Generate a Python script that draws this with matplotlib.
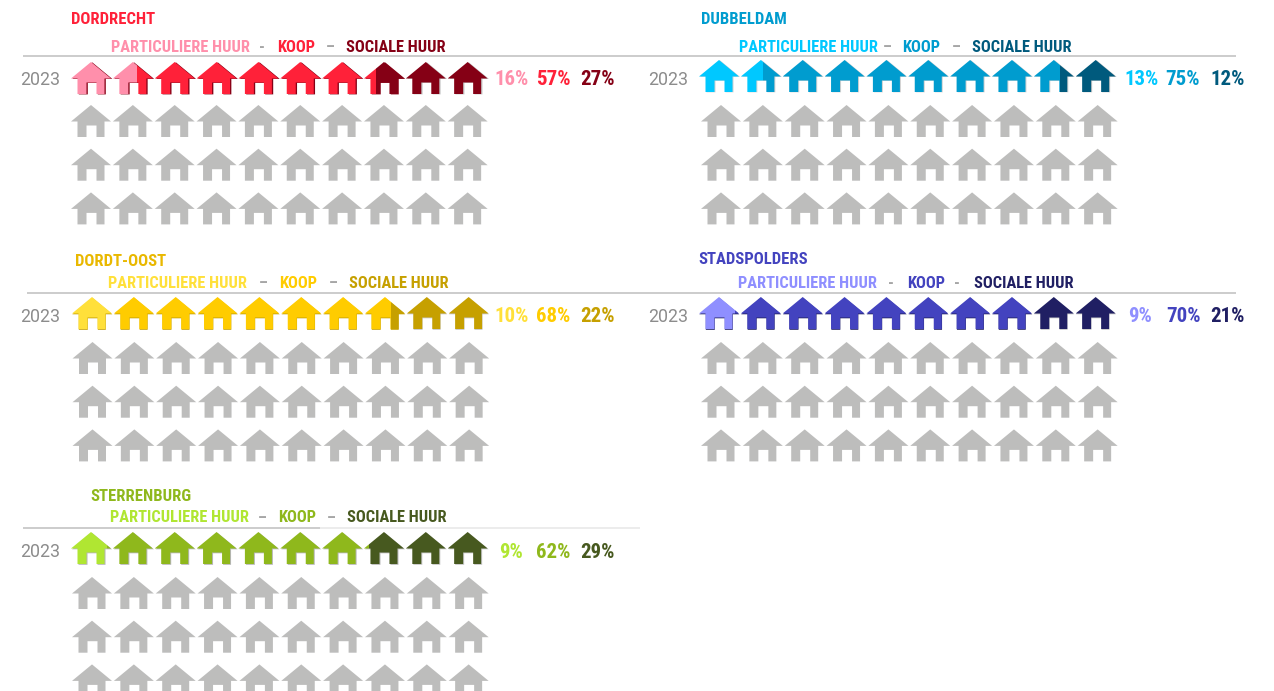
import matplotlib
matplotlib.use("Agg")
import matplotlib.pyplot as plt
from matplotlib import font_manager as fm
from matplotlib.patches import PathPatch, Rectangle
from matplotlib.path import Path

# ---- data ----
YEAR = "2023"
SERIES_LABELS = ["PARTICULIERE HUUR", "KOOP", "SOCIALE HUUR"]
dordrecht_pct = [16, 57, 27]
dubbeldam_pct = [13, 75, 12]
dordt_oost_pct = [10, 68, 22]
stadspolders_pct = [9, 70, 21]
sterrenburg_pct = [9, 62, 29]
# filled house boundaries (in houses)
dordrecht_fill = [1.6, 7.3]
dubbeldam_fill = [1.55, 8.65]
dordt_oost_fill = [1.0, 7.65]
stadspolders_fill = [0.9, 8.0]
sterrenburg_fill = [0.9, 7.12]

# ---- layout / style ----
GRAY = "#BDBDBC"
avail = {f.name for f in fm.fontManager.ttflist}
NARROW = next((n for n in ["Roboto Condensed", "Liberation Sans Narrow", "Roboto"] if n in avail), "DejaVu Sans")

panels = [
    dict(name="DORDRECHT", pct=dordrecht_pct, fill=dordrecht_fill,
         cols=["#FF8FAB", "#FF2139", "#850015"], title=("#FF2139", 70.5, 19),
         top=(71, 62), grid=(71, 105), leg_y=47, leg_x=[111, 277, 346], sep=[("-", 262), ("–", 330)],
         year_y=79.5, pct_x=[494, 536, 580], year_x=20, shadow=("#850015", 1.3, 0.4)),
    dict(name="DUBBELDAM", pct=dubbeldam_pct, fill=dubbeldam_fill,
         cols=["#00C8FF", "#009CCF", "#005A7D"], title=("#009CCF", 700.5, 19),
         top=(699, 60), grid=(701, 105), leg_y=47, leg_x=[739, 902, 972], sep=[("–", 887), ("–", 956)],
         year_y=79.5, pct_x=[1124, 1165, 1210], year_x=648, shadow=("#D0D0D0", 1.0, 0.3)),
    dict(name="DORDT-OOST", pct=dordt_oost_pct, fill=dordt_oost_fill,
         cols=["#FFE03A", "#FFCC00", "#C6A000"], title=("#E9B800", 74.5, 261),
         top=(72, 297), grid=(72.5, 342), leg_y=283, leg_x=[108, 279, 349], sep=[("–", 263), ("–", 333)],
         year_y=316.5, pct_x=[494, 536, 580], year_x=20, shadow=("#C6A000", 0.3, 0.8)),
    dict(name="STADSPOLDERS", pct=stadspolders_pct, fill=stadspolders_fill,
         cols=["#8F8FFF", "#4343BF", "#201F63"], title=("#4343BF", 698.5, 259),
         top=(699, 297), grid=(701, 342), leg_y=283, leg_x=[738, 907, 974], sep=[("-", 891), ("-", 957)],
         year_y=316.5, pct_x=[1128, 1166, 1210], year_x=648, shadow=("#201F63", 0.3, 0.8)),
    dict(name="STERRENBURG", pct=sterrenburg_pct, fill=sterrenburg_fill,
         cols=["#B0E632", "#8FB81C", "#47591F"], title=("#8FB81C", 90.5, 496),
         top=(71, 532), grid=(72, 577), leg_y=518, leg_x=[110, 278, 347], sep=[("–", 262), ("–", 331)],
         year_y=552, pct_x=[499, 536, 580], year_x=20, shadow=("#B5B5B5", 1.0, 0.8)),
]
rules = [(56, 23, 1236, "#C8C8C8"), (293, 27, 1236, "#C8C8C8"),
         (527.5, 23, 320, "#C8C8C8"), (527.5, 320, 640, "#EBEBEB")]
STEP_X, STEP_Y = 41.85, 43.7

# house outline, door is cut out
HOUSE = [(0, 16.5), (20, 0), (40, 16.5), (33.5, 16.5), (33.5, 32), (25.5, 32), (25.5, 20.5), (15.5, 20.5),
         (15.5, 32), (6.5, 32), (6.5, 16.5), (0, 16.5)]


def house(x, y):
    return Path([(x + a, y + b) for a, b in HOUSE])


fig = plt.figure(figsize=(12.74, 6.91), dpi=100)
ax = fig.add_axes([0, 0, 1, 1])
ax.set_xlim(0, 1274)
ax.set_ylim(691, 0)
ax.axis("off")


def draw(x, y, color, x0=None, x1=None, z=2):
    p = PathPatch(house(x, y), facecolor=color, edgecolor="none", lw=0, zorder=z)
    ax.add_patch(p)
    if x0 is not None:
        p.set_clip_path(Rectangle((x0, y - 3), x1 - x0, 40, transform=ax.transData))
    return p


for y, x0, x1, c in rules:
    ax.plot([x0, x1], [y, y], color=c, lw=1.3, zorder=1, solid_capstyle="butt")

for pn in panels:
    c = pn["cols"]
    tc, tx, ty = pn["title"]
    ax.text(tx, ty, pn["name"], color=tc, family=NARROW, weight="bold", fontsize=12.0, va="center", ha="left")
    for lab, lx, col in zip(SERIES_LABELS, pn["leg_x"], c):
        ax.text(lx, pn["leg_y"], lab, color=col, family=NARROW, weight="bold", fontsize=11.75, va="center", ha="left")
    for s, sx in pn["sep"]:
        ax.text(sx, pn["leg_y"], s, color="#A6A6A6", family=NARROW, weight="bold", fontsize=11.5, va="center", ha="center")
    ax.text(pn["year_x"], pn["year_y"], YEAR, color="#8C8C8C", family="Roboto", fontsize=12.8, va="center", ha="left")
    for v, px, col in zip(pn["pct"], pn["pct_x"], c):
        ax.text(px, pn["year_y"], f"{v}%", color=col, family=NARROW, weight="bold", fontsize=15, va="center", ha="left")

    # grey rows
    gx, gy = pn["grid"]
    for r in range(3):
        for i in range(10):
            draw(gx + i * STEP_X, gy + r * STEP_Y, GRAY)

    # coloured row
    tx0, ty0 = pn["top"]
    b1, b2 = pn["fill"]
    sh, dx, dy = pn["shadow"]
    for i in range(10):
        x = tx0 + i * STEP_X
        dark_house = i >= b2
        draw(x + dx, ty0 + dy, "#C4C4C4" if dark_house else sh, z=2)
        for lo, hi, col in ((0, b1, c[0]), (b1, b2, c[1]), (b2, 10, c[2])):
            a, b = max(lo, i), min(hi, i + 1)
            if b > a:
                draw(x, ty0, col, x + (a - i) * 40, x + (b - i) * 40, z=3)

fig.savefig("out.png", dpi=100, facecolor="white")
